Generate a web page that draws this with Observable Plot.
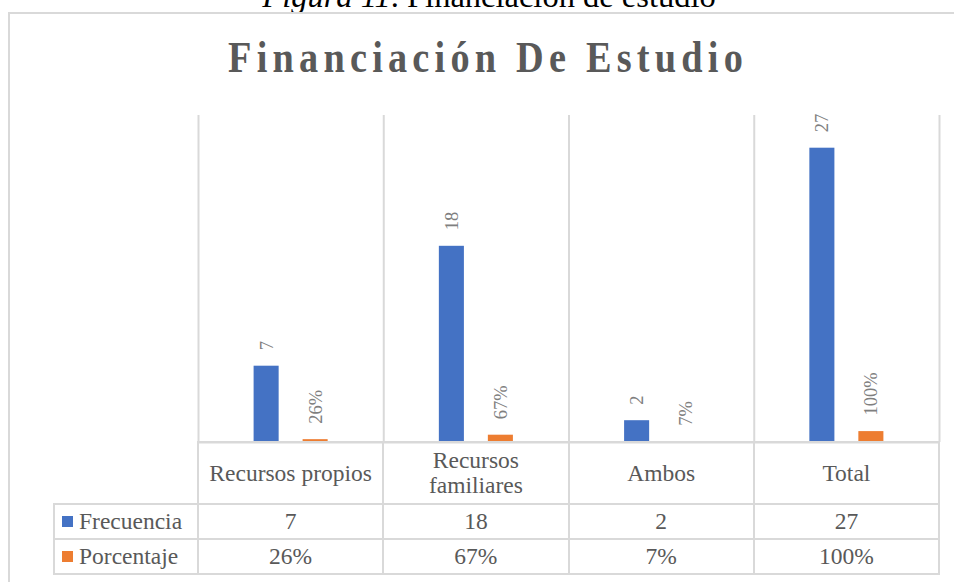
<!DOCTYPE html>
<html><head><meta charset="utf-8">
<script src="https://cdn.jsdelivr.net/npm/d3@7"></script>
<script src="https://cdn.jsdelivr.net/npm/@observablehq/plot@0.6"></script>
<style>
body{margin:0;background:#fff;}
#root{position:relative;width:954px;height:582px;overflow:hidden;font-family:"Liberation Serif","Times New Roman",serif;color:#595959;}
#caption{position:absolute;left:0;width:978px;text-align:center;top:-20px;font-size:32.5px;line-height:32px;color:#000;white-space:nowrap;}
#box{position:absolute;left:8px;top:12px;width:966px;height:600px;border:2px solid #d9d9d9;box-sizing:border-box;}
#title{position:absolute;left:0;width:971px;top:36px;text-align:center;font-size:44px;line-height:44px;font-weight:bold;letter-spacing:6px;padding-left:6px;box-sizing:border-box;transform:scaleX(0.87);transform-origin:485px 0;white-space:nowrap;color:#595959;}
#chart{position:absolute;left:0;top:0;}
.cell{position:absolute;box-sizing:border-box;border:2px solid #d9d9d9;display:flex;align-items:center;justify-content:center;text-align:center;font-family:"Liberation Serif","Times New Roman",serif;font-size:23.5px;line-height:25px;white-space:pre-line;color:#595959;}
.leg{justify-content:flex-start;padding-left:7px;}
.sw{display:inline-block;width:11px;height:11px;margin-right:6px;}
</style></head>
<body><div id="root">
<div id="caption"><i>Figura 11</i>. Financiación de estudio</div>
<div id="box"></div>
<div id="title">Financiación De Estudio</div>
<div id="chart"></div>
</div>
<script>
const categories = ["Recursos propios", "Recursos familiares", "Ambos", "Total"];
const categoryLines = ["Recursos propios", "Recursos\nfamiliares", "Ambos", "Total"];
const frecuencia = [7, 18, 2, 27];
const porcentaje = [0.26, 0.67, 0.07, 1.00];
const porcentajeLabels = ["26%", "67%", "7%", "100%"];
const series = ["Frecuencia", "Porcentaje"];
const colors = ["#4472C4", "#ED7D31"];
const yMax = 30;

const rows = categories.flatMap((c, i) => [
  {cat: c, i, series: series[0], value: frecuencia[i], label: String(frecuencia[i])},
  {cat: c, i, series: series[1], value: porcentaje[i], label: porcentajeLabels[i]}
]);
const fr = rows.filter(d => d.series === series[0]);
const pc = rows.filter(d => d.series === series[1]);

const grid = "#d9d9d9";
const serif = "Liberation Serif, Times New Roman, serif";
const labelStyle = {fontSize: 18.5, fontFamily: serif, fill: "#7f7f7f", rotate: -90, textAnchor: "start", lineAnchor: "middle", dy: -16};

const chart = Plot.plot({
  width: 954, height: 444,
  marginLeft: 198, marginRight: 15, marginTop: 115, marginBottom: 2,
  style: {background: "transparent", fontFamily: serif},
  x: {domain: [0, categories.length], axis: null},
  y: {domain: [0, yMax], axis: null},
  marks: [
    Plot.ruleX(d3.range(categories.length + 1), {stroke: grid, strokeWidth: 2}),
    Plot.rect(fr, {x1: d => d.i, x2: d => d.i + 1, y1: 0, y2: "value", fill: colors[0], insetLeft: 55.6, insetRight: 104.6}),
    Plot.rect(pc, {x1: d => d.i, x2: d => d.i + 1, y1: 0, y2: "value", fill: colors[1], insetLeft: 104.6, insetRight: 55.6}),
    Plot.ruleY([0], {stroke: grid, strokeWidth: 2}),
    Plot.text(fr, {x: d => d.i + 0.5, y: "value", text: "label", dx: -24.5, ...labelStyle}),
    Plot.text(pc, {x: d => d.i + 0.5, y: "value", text: "label", dx: 24.5, ...labelStyle})
  ]
});
document.getElementById("chart").appendChild(chart);

// data table below the plot, aligned on the plot's own x scale
const xs = chart.scale("x");
const root = document.getElementById("root");
const rowsY = [[441, 64], [503, 37], [538, 37]];
function cell(left, width, top, height, html, cls) {
  const d = document.createElement("div");
  d.className = "cell" + (cls ? " " + cls : "");
  d.style.left = left + "px"; d.style.width = width + "px";
  d.style.top = top + "px"; d.style.height = height + "px";
  d.innerHTML = html;
  root.appendChild(d);
}
const x0 = xs.apply(0);
categories.forEach((c, i) => {
  const l = xs.apply(i) - 1, w = xs.apply(i + 1) - xs.apply(i) + 2;
  cell(l, w, rowsY[0][0], rowsY[0][1], categoryLines[i].replace("\n", "<br>"));
  cell(l, w, rowsY[1][0], rowsY[1][1], String(frecuencia[i]));
  cell(l, w, rowsY[2][0], rowsY[2][1], porcentajeLabels[i]);
});
const legL = 53;
series.forEach((s, k) => {
  cell(legL, x0 - legL + 1, rowsY[k + 1][0], rowsY[k + 1][1],
    `<span class="sw" style="background:${colors[k]}"></span>${s}`, "leg");
});
</script>
</body></html>
